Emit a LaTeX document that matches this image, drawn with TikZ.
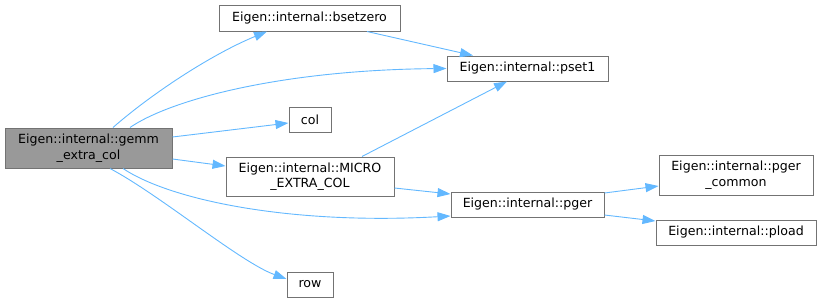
\documentclass[tikz,border=0pt]{standalone}
\usepackage{fontspec}
\setmainfont{DejaVu Sans}
\usetikzlibrary{arrows.meta,calc}
\begin{document}
\begin{tikzpicture}[x=1pt,y=-1pt,
  box/.style={draw=black!55, fill=white, line width=1pt, inner sep=0pt,
    align=center, font=\fontsize{12.6}{15.5}\selectfont, anchor=center},
  rootbox/.style={box, fill=black!40},
  edge/.style={draw={rgb,255:red,99;green,184;blue,255}, line width=0.9pt,
    -{Triangle[length=13pt,width=9pt]}}]
\useasboundingbox (0,0) rectangle (821,303);
% nodes
\node[rootbox, minimum width=167, minimum height=40] (g) at (88.5,148) {Eigen::internal::gemm\\\_extra\_col};
\node[box, minimum width=181, minimum height=26] (bz) at (309.5,18) {Eigen::internal::bsetzero};
\node[box, minimum width=161, minimum height=25] (ps) at (527.5,68.5) {Eigen::internal::pset1};
\node[box, minimum width=42, minimum height=25] (col) at (310,119.5) {col};
\node[box, minimum width=168, minimum height=39] (mc) at (310,176.5) {Eigen::internal::MICRO\\\_EXTRA\_COL};
\node[box, minimum width=153, minimum height=25] (pg) at (527.5,204.5) {Eigen::internal::pger};
\node[box, minimum width=154, minimum height=40] (pc) at (736,175) {Eigen::internal::pger\\\_common};
\node[box, minimum width=160, minimum height=25] (pl) at (736,232.5) {Eigen::internal::pload};
\node[box, minimum width=46, minimum height=25] (row) at (310,284.5) {row};
% connectors
\draw[edge] ([xshift=24.5]g.north) .. controls (150,95) and (210,55) .. ([xshift=-42.5]bz.south);
\draw[edge] ([xshift=41.5]g.north) .. controls (170,100) and (280,70) .. (ps.west);
\draw[edge] ([yshift=11]g.east) -- ([yshift=-3.5]col.west);
\draw[edge] ([yshift=-11]g.east) -- ([yshift=10.5]mc.west);
\draw[edge] ([xshift=34.5]g.south) .. controls (170,200) and (290,225) .. ([yshift=-11.5]pg.west);
\draw[edge] ([xshift=21.5]g.south) .. controls (160,195) and (240,262) .. ([yshift=5.5]row.west);
\draw[edge] ([xshift=57.5]bz.south) -- ([xshift=-54.5]ps.north);
\draw[edge] ([xshift=52]mc.north) -- ([xshift=-20.5]ps.south);
\draw[edge] ([yshift=-11.5]mc.east) -- ([yshift=10.5]pg.west);
\draw[edge] ([yshift=11.5]pg.east) -- ([yshift=-11]pc.west);
\draw[edge] ([yshift=-10.5]pg.east) -- ([yshift=11.5]pl.west);
\end{tikzpicture}
\end{document}
